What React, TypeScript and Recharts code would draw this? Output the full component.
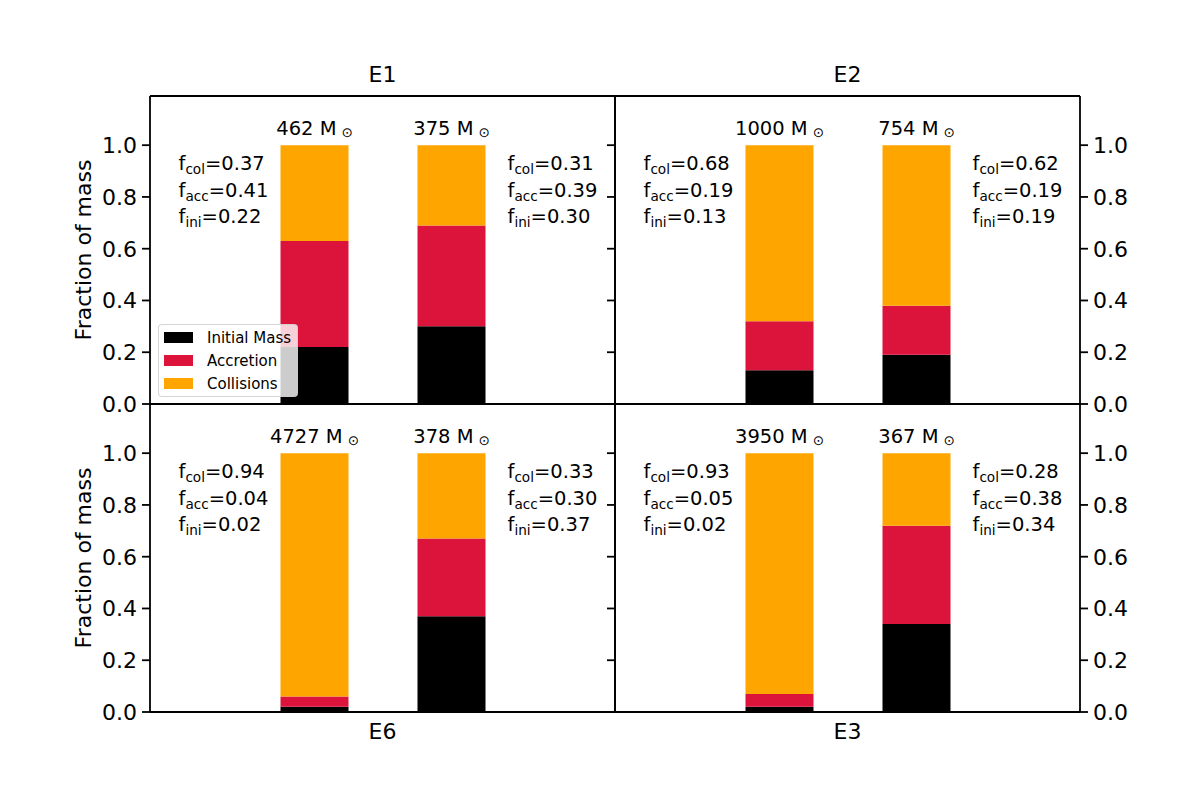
import { ComposedChart, Bar, Line, XAxis, YAxis, Legend, LabelList, Label } from 'recharts';

// panel order: top-left, top-right, bottom-left, bottom-right
const panelNames = ['E1', 'E2', 'E6', 'E3'];
const barMasses = [[462, 375], [1000, 754], [4727, 378], [3950, 367]];
const fIni = [[0.22, 0.30], [0.13, 0.19], [0.02, 0.37], [0.02, 0.34]];
const fAcc = [[0.41, 0.39], [0.19, 0.19], [0.04, 0.30], [0.05, 0.38]];
const fCol = [[0.37, 0.31], [0.68, 0.62], [0.94, 0.33], [0.93, 0.28]];
const yTicks = [0, 0.2, 0.4, 0.6, 0.8, 1.0];

const series = [
  { key: 'ini', name: 'Initial Mass', color: '#000000' },
  { key: 'acc', name: 'Accretion', color: '#dc143c' },
  { key: 'col', name: 'Collisions', color: '#ffa500' },
];

const W = 1200;
const H = 800;
const AXW = 70;
const FONT = 'DejaVu Sans';

function panelData(p: number) {
  return [0, 1].map(i => ({
    name: `b${i}`,
    idx: i,
    ini: fIni[p][i],
    acc: fAcc[p][i],
    col: fCol[p][i],
  }));
}

function renderAnnotation(props: any, p: number) {
  const { x, y, width, value } = props;
  const i = Number(value);
  const tx = i === 0 ? x - 102 : x + width + 22;
  const rows = [
    { sub: 'col', v: fCol[p][i] },
    { sub: 'acc', v: fAcc[p][i] },
    { sub: 'ini', v: fIni[p][i] },
  ];
  return (
    <g>
      <text x={x + width / 2} y={y - 10} textAnchor="middle" fontSize={19.5} fill="#000">
        {`${barMasses[p][i]} M`}
        <tspan fontSize={13.5} dx={5} dy={2}>⊙</tspan>
      </text>
      {rows.map((r, k) => (
        <text key={r.sub} x={tx} y={y + 25 + k * 26.5} fontSize={19.5} fill="#000">
          f
          <tspan fontSize={13.6} dy={4}>{r.sub}</tspan>
          <tspan dy={-4}>{`=${r.v.toFixed(2)}`}</tspan>
        </text>
      ))}
    </g>
  );
}

// tick mark without a label (used on the inner spine of the right panels)
const EmptyTick = () => <g />;

function LegendBox() {
  return (
    <div
      style={{
        width: 138,
        border: '1px solid rgba(204,204,204,0.8)',
        borderRadius: 4,
        background: 'rgba(255,255,255,0.8)',
        padding: '1px 0',
        fontSize: 15,
      }}
    >
      {series.map(s => (
        <div key={s.key} style={{ display: 'flex', alignItems: 'center', height: 23 }}>
          <span style={{ display: 'inline-block', width: 29, height: 11, background: s.color, marginLeft: 5, marginRight: 14 }} />
          <span style={{ color: '#000', whiteSpace: 'nowrap' }}>{s.name}</span>
        </div>
      ))}
    </div>
  );
}

function Panel({ p }: { p: number }) {
  const row = Math.floor(p / 2);
  const colIdx = p % 2;
  // plot box edges in page pixels
  const top = row === 0 ? 96 : 404;
  const bottom = row === 0 ? 404 : 712;
  const leftEdge = colIdx === 0 ? 150 : 615;
  const rightEdge = colIdx === 0 ? 615 : 1080;
  // each axis takes 1px (x axes, secondary y) or AXW (main y)
  const margin = {
    top: top - 1,
    bottom: H - bottom - 1,
    left: colIdx === 0 ? leftEdge - AXW : leftEdge - 1,
    right: colIdx === 0 ? W - rightEdge - 1 : W - rightEdge - AXW,
  };
  const data = panelData(p);
  const axisStroke = { stroke: '#000', strokeWidth: 1.8 };
  const tickStyle = { fill: '#000', fontSize: 22 };

  return (
    <div style={{ position: 'absolute', left: 0, top: 0 }}>
      <ComposedChart width={W} height={H} data={data} margin={margin} barSize={68}>
        <XAxis
          dataKey="name"
          type="category"
          padding={{ left: 95.5, right: 95.5 }}
          tick={false}
          tickLine={false}
          height={1}
          axisLine={axisStroke}
        >
          {row === 1 && <Label value={panelNames[p]} position="bottom" offset={10} fontSize={22} fill="#000" />}
        </XAxis>
        <XAxis
          xAxisId="top"
          orientation="top"
          dataKey="name"
          type="category"
          tick={false}
          tickLine={false}
          height={1}
          axisLine={axisStroke}
        >
          {row === 0 && <Label value={panelNames[p]} position="top" offset={13} fontSize={22} fill="#000" />}
        </XAxis>
        <YAxis
          yAxisId="main"
          orientation={colIdx === 0 ? 'left' : 'right'}
          type="number"
          domain={[0, 1.19]}
          ticks={yTicks}
          interval={0}
          tickFormatter={(v: number) => v.toFixed(1)}
          tick={tickStyle}
          tickSize={8}
          tickMargin={5}
          tickLine={axisStroke}
          axisLine={axisStroke}
          width={AXW}
        >
          {colIdx === 0 && (
            <Label
              value="Fraction of mass"
              angle={-90}
              position="insideLeft"
              offset={3}
              fontSize={22}
              fill="#000"
              style={{ textAnchor: 'middle' }}
            />
          )}
        </YAxis>
        <YAxis
          yAxisId="sec"
          orientation={colIdx === 0 ? 'right' : 'left'}
          type="number"
          domain={[0, 1.19]}
          ticks={yTicks}
          interval={0}
          tick={colIdx === 1 ? EmptyTick : false}
          tickSize={8}
          tickMargin={0}
          tickLine={colIdx === 1 ? axisStroke : false}
          axisLine={axisStroke}
          width={1}
        />
        {series.map(s => (
          <Bar
            key={s.key}
            dataKey={s.key}
            name={s.name}
            stackId="mass"
            fill={s.color}
            yAxisId="main"
            isAnimationActive={false}
          >
            {s.key === 'col' && (
              <LabelList dataKey="idx" content={(lp: any) => renderAnnotation(lp, p)} />
            )}
          </Bar>
        ))}
        {/* invisible series so the secondary spine gets a scale for its tick marks */}
        <Line
          yAxisId="sec"
          dataKey="col"
          stroke="none"
          dot={false}
          activeDot={false}
          legendType="none"
          isAnimationActive={false}
        />
        {p === 0 && (
          <Legend
            layout="vertical"
            align="center"
            verticalAlign="middle"
            content={() => <LegendBox />}
            wrapperStyle={{ position: 'absolute', left: 158, top: 324, right: 'auto', bottom: 'auto', width: 140 }}
          />
        )}
      </ComposedChart>
    </div>
  );
}

export default function App() {
  return (
    <div style={{ position: 'absolute', left: 0, top: 0, width: W, height: H, background: '#fff', fontFamily: FONT }}>
      {/* top-left last so its legend sits above the other overlays */}
      <Panel p={3} />
      <Panel p={2} />
      <Panel p={1} />
      <Panel p={0} />
    </div>
  );
}
